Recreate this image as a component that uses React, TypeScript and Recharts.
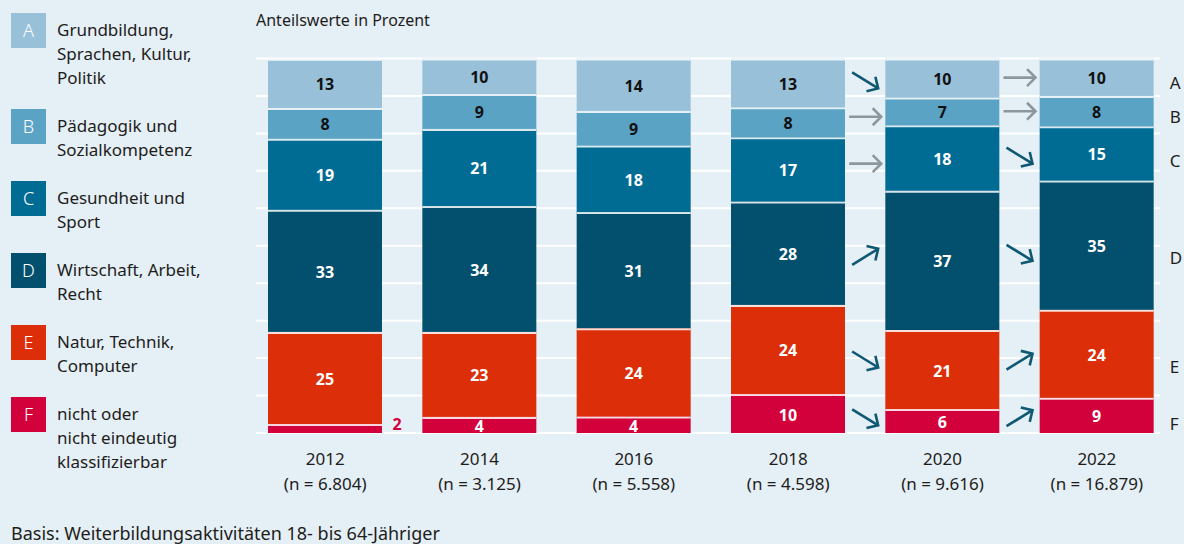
import React from "react";
import { BarChart, Bar, XAxis, YAxis, CartesianGrid } from "recharts";

const years = ["2012", "2014", "2016", "2018", "2020", "2022"];
const sampleSizes = ["6.804", "3.125", "5.558", "4.598", "9.616", "16.879"];

// Anteilswerte in Prozent, bottom (F) to top (A)
const shareF = [2.4, 4.3, 4.4, 10.4, 6.4, 9.4];
const shareE = [24.6, 22.7, 23.6, 23.8, 21.1, 23.5];
const shareD = [32.6, 33.6, 31.0, 27.6, 37.2, 34.5];
const shareC = [19.0, 20.6, 17.8, 17.2, 17.5, 14.5];
const shareB = [8.2, 9.3, 9.2, 8.0, 7.4, 8.1];
const shareA = [13.1, 9.5, 14.0, 13.0, 10.4, 10.0];

// change vs. previous wave (only marked for 2020 and 2022)
const trendF = [null, null, null, null, "down", "up"];
const trendE = [null, null, null, null, "down", "up"];
const trendD = [null, null, null, null, "up", "down"];
const trendC = [null, null, null, null, "same", "down"];
const trendB = [null, null, null, null, "same", "same"];
const trendA = [null, null, null, null, "down", "same"];

const gridTicks = [0, 10, 20, 30, 40, 50, 60, 70, 80, 90, 100];

const legendLetters = ["A", "B", "C", "D", "E", "F"];
const legendLabels = [
  ["Grundbildung,", "Sprachen, Kultur,", "Politik"],
  ["Pädagogik und", "Sozialkompetenz"],
  ["Gesundheit und", "Sport"],
  ["Wirtschaft, Arbeit,", "Recht"],
  ["Natur, Technik,", "Computer"],
  ["nicht oder", "nicht eindeutig", "klassifizierbar"],
];

const FONT = '"Noto Sans", "Open Sans", sans-serif';
const BG = "#e5eff6";
const TEXT = "#1d1d1b";
const ARROW_DARK = "#0e5873";
const ARROW_GREY = "#8c979d";

const PLOT_LEFT = 248;
const PLOT_RIGHT = 1174;
const BAR_SIZE = 114;
const BAND = (PLOT_RIGHT - PLOT_LEFT) / years.length;

const series = [
  { key: "F", values: shareF, trend: trendF, color: "#d2003b", label: "#ffffff" },
  { key: "E", values: shareE, trend: trendE, color: "#dc2e08", label: "#ffffff" },
  { key: "D", values: shareD, trend: trendD, color: "#02506d", label: "#ffffff" },
  { key: "C", values: shareC, trend: trendC, color: "#006c94", label: "#ffffff" },
  { key: "B", values: shareB, trend: trendB, color: "#5ba3c5", label: "#111111" },
  { key: "A", values: shareA, trend: trendA, color: "#98c1d9", label: "#111111" },
];

const legendColors = ["#98c1d9", "#5ba3c5", "#006c94", "#02506d", "#dc2e08", "#d2003b"];
const legendTops = [13, 109, 181, 253, 325, 397];

const data = years.map((year, i) => {
  const row: Record<string, any> = { year, n: sampleSizes[i] };
  series.forEach((s) => (row[s.key] = s.values[i]));
  return row;
});

function Arrow({ cx, cy, kind }: { cx: number; cy: number; kind: string }) {
  let dx = 13;
  let dy = 0;
  if (kind === "down") { dx = 13; dy = 8; }
  if (kind === "up") { dx = 13; dy = -8; }
  if (kind === "same") { dx = 16; dy = 0; }
  const tipX = cx + dx;
  const tipY = cy + dy;
  const ang = Math.atan2(-dy, -dx);
  const len = 12;
  const a1 = ang + Math.PI / 4;
  const a2 = ang - Math.PI / 4;
  const color = kind === "same" ? ARROW_GREY : ARROW_DARK;
  return (
    <g stroke={color} strokeWidth={2.6} fill="none" strokeLinecap="butt">
      <line x1={cx - dx} y1={cy - dy} x2={tipX} y2={tipY} />
      <polyline
        points={`${tipX + len * Math.cos(a1)},${tipY + len * Math.sin(a1)} ${tipX},${tipY} ${tipX + len * Math.cos(a2)},${tipY + len * Math.sin(a2)}`}
      />
    </g>
  );
}

function makeSegment(si: number) {
  const s = series[si];
  return (props: any) => {
    const { x, y, width, height, index } = props;
    if (!height || height <= 0) return <g />;
    const value = s.values[index];
    const ppu = height / value;
    const below = series.slice(0, si).reduce((sum, o) => sum + o.values[index], 0);
    const bottom = y + height + below * ppu;
    const center = y + height / 2;

    let arrowY = center;
    const trend = s.trend[index];
    if (index > 0) {
      const prevBelow = series.slice(0, si).reduce((sum, o) => sum + o.values[index - 1], 0);
      const prevCenter = bottom - (prevBelow + s.values[index - 1] / 2) * ppu;
      arrowY = (prevCenter + center) / 2;
    }
    const gap = BAND - width;
    const inside = height >= 14;

    return (
      <g>
        <rect x={x} y={y} width={width} height={height} fill={s.color} />
        <line
          x1={x}
          x2={x + width}
          y1={y + 1}
          y2={y + 1}
          stroke="rgba(255,255,255,0.85)"
          strokeWidth={2}
        />
        <text
          x={inside ? x + width / 2 : x + width + 15}
          y={inside ? center + 1 : y + height - 9}
          textAnchor="middle"
          dominantBaseline="central"
          fontFamily={FONT}
          fontWeight={700}
          fontSize={16}
          fill={inside ? s.label : s.color}
        >
          {Math.round(value)}
        </text>
        {trend && <Arrow cx={x - gap / 2} cy={arrowY} kind={trend} />}
        {index === years.length - 1 && (
          <text
            x={x + width + 16}
            y={arrowY + 5}
            dominantBaseline="central"
            fontFamily={FONT}
            fontSize={17}
            fill={TEXT}
          >
            {s.key}
          </text>
        )}
      </g>
    );
  };
}

function YearTick(props: any) {
  const { x, y, payload } = props;
  const i = years.indexOf(payload.value);
  return (
    <g fontFamily={FONT} fontSize={17} fill={TEXT}>
      <text x={x} y={y + 32} textAnchor="middle" fill={TEXT}>
        {payload.value}
      </text>
      <text x={x} y={y + 57} textAnchor="middle" fill={TEXT}>
        (n = {sampleSizes[i]})
      </text>
    </g>
  );
}

export default function App() {
  return (
    <div
      style={{
        position: "absolute",
        left: 0,
        top: 0,
        width: 1184,
        height: 544,
        background: BG,
        overflow: "hidden",
        fontFamily: FONT,
        color: TEXT,
      }}
    >
      <div style={{ position: "absolute", left: 256, top: 10, fontSize: 16, lineHeight: "20px" }}>
        Anteilswerte in Prozent
      </div>

      {legendLetters.map((letter, i) => (
        <div key={letter}>
          <div
            style={{
              position: "absolute",
              left: 11,
              top: legendTops[i],
              width: 35,
              height: 35,
              background: legendColors[i],
              color: "#ffffff",
              fontSize: 18,
              fontWeight: 300,
              lineHeight: "35px",
              textAlign: "center",
            }}
          >
            {letter}
          </div>
          <div
            style={{
              position: "absolute",
              left: 57,
              top: legendTops[i] + 5,
              fontSize: 17,
              lineHeight: "24px",
              whiteSpace: "nowrap",
            }}
          >
            {legendLabels[i].map((line) => (
              <div key={line}>{line}</div>
            ))}
          </div>
        </div>
      ))}

      <div style={{ position: "absolute", left: 11, top: 523, fontSize: 18, lineHeight: "20px", whiteSpace: "nowrap" }}>
        Basis: Weiterbildungsaktivitäten 18- bis 64-Jähriger
      </div>

      <div style={{ position: "absolute", left: 0, top: 0 }}>
        <BarChart
          width={1184}
          height={544}
          data={data}
          margin={{ top: 58.5, right: 1184 - PLOT_RIGHT, bottom: 41, left: PLOT_LEFT }}
          barSize={BAR_SIZE}
        >
          <CartesianGrid
            vertical={false}
            stroke="#ffffff"
            strokeWidth={2}
            x={256}
            width={904}
          />
          <XAxis
            dataKey="year"
            height={70}
            axisLine={false}
            tickLine={false}
            tickSize={0}
            tickMargin={0}
            interval={0}
            tick={<YearTick />}
          />
          <YAxis hide domain={[0, 100]} allowDataOverflow ticks={gridTicks} interval={0} />
          {series.map((s, si) => (
            <Bar
              key={s.key}
              dataKey={s.key}
              stackId="share"
              fill={s.color}
              isAnimationActive={false}
              shape={makeSegment(si)}
            />
          ))}
        </BarChart>
      </div>
    </div>
  );
}
